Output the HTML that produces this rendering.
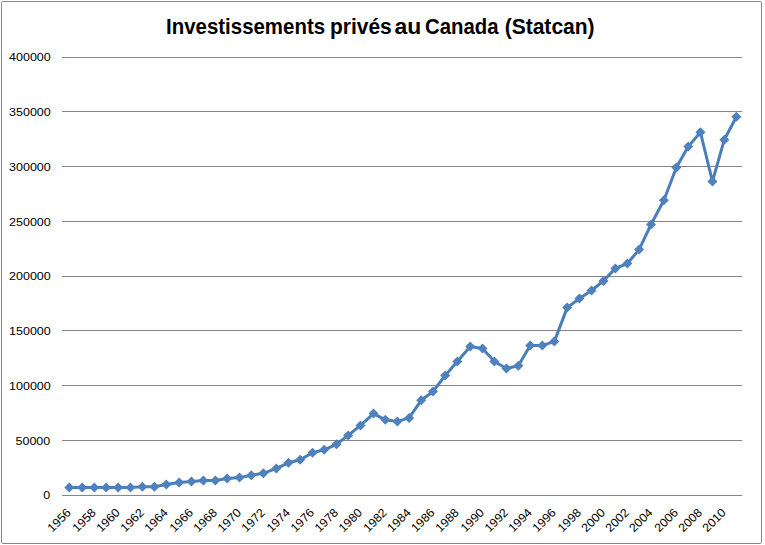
<!DOCTYPE html><html><head><meta charset="utf-8"><style>html,body{margin:0;padding:0;background:#fff;}svg{display:block;}text{font-family:"Liberation Sans",sans-serif;}</style></head><body>
<svg width="765" height="545" viewBox="0 0 765 545">
<rect x="0" y="0" width="765" height="545" fill="#fff"/>
<rect x="1.5" y="1.5" width="760" height="542" rx="1.2" ry="1.2" fill="#fff" stroke="#868686" stroke-width="1"/>
<line x1="62" y1="495.5" x2="742" y2="495.5" stroke="#868686" stroke-width="1"/>
<line x1="62" y1="440.5" x2="742" y2="440.5" stroke="#868686" stroke-width="1"/>
<line x1="62" y1="385.5" x2="742" y2="385.5" stroke="#868686" stroke-width="1"/>
<line x1="62" y1="330.5" x2="742" y2="330.5" stroke="#868686" stroke-width="1"/>
<line x1="62" y1="276.5" x2="742" y2="276.5" stroke="#868686" stroke-width="1"/>
<line x1="62" y1="221.5" x2="742" y2="221.5" stroke="#868686" stroke-width="1"/>
<line x1="62" y1="166.5" x2="742" y2="166.5" stroke="#868686" stroke-width="1"/>
<line x1="62" y1="111.5" x2="742" y2="111.5" stroke="#868686" stroke-width="1"/>
<line x1="62" y1="57.5" x2="742" y2="57.5" stroke="#868686" stroke-width="1"/>
<text transform="translate(50.3,498.5) scale(1.09,1)" text-anchor="end" font-size="11.5" fill="#000">0</text>
<text transform="translate(50.3,444.5) scale(1.09,1)" text-anchor="end" font-size="11.5" fill="#000">50000</text>
<text transform="translate(50.8,389.5) scale(1.09,1)" text-anchor="end" font-size="11.5" fill="#000">100000</text>
<text transform="translate(50.8,334.5) scale(1.09,1)" text-anchor="end" font-size="11.5" fill="#000">150000</text>
<text transform="translate(50.8,279.5) scale(1.09,1)" text-anchor="end" font-size="11.5" fill="#000">200000</text>
<text transform="translate(50.8,225.5) scale(1.09,1)" text-anchor="end" font-size="11.5" fill="#000">250000</text>
<text transform="translate(50.8,170.5) scale(1.09,1)" text-anchor="end" font-size="11.5" fill="#000">300000</text>
<text transform="translate(50.8,115.5) scale(1.09,1)" text-anchor="end" font-size="11.5" fill="#000">350000</text>
<text transform="translate(50.8,60.5) scale(1.09,1)" text-anchor="end" font-size="11.5" fill="#000">400000</text>
<text transform="translate(71.70,513.40) rotate(-45) scale(1.03,1)" text-anchor="end" font-size="12" fill="#000">1956</text>
<text transform="translate(96.70,513.40) rotate(-45) scale(1.03,1)" text-anchor="end" font-size="12" fill="#000">1958</text>
<text transform="translate(120.60,513.40) rotate(-45) scale(1.03,1)" text-anchor="end" font-size="12" fill="#000">1960</text>
<text transform="translate(144.80,513.40) rotate(-45) scale(1.03,1)" text-anchor="end" font-size="12" fill="#000">1962</text>
<text transform="translate(168.70,513.40) rotate(-45) scale(1.03,1)" text-anchor="end" font-size="12" fill="#000">1964</text>
<text transform="translate(193.85,513.40) rotate(-45) scale(1.03,1)" text-anchor="end" font-size="12" fill="#000">1966</text>
<text transform="translate(217.75,513.40) rotate(-45) scale(1.03,1)" text-anchor="end" font-size="12" fill="#000">1968</text>
<text transform="translate(241.90,513.40) rotate(-45) scale(1.03,1)" text-anchor="end" font-size="12" fill="#000">1970</text>
<text transform="translate(265.75,513.40) rotate(-45) scale(1.03,1)" text-anchor="end" font-size="12" fill="#000">1972</text>
<text transform="translate(290.90,513.40) rotate(-45) scale(1.03,1)" text-anchor="end" font-size="12" fill="#000">1974</text>
<text transform="translate(314.90,513.40) rotate(-45) scale(1.03,1)" text-anchor="end" font-size="12" fill="#000">1976</text>
<text transform="translate(338.90,513.40) rotate(-45) scale(1.03,1)" text-anchor="end" font-size="12" fill="#000">1978</text>
<text transform="translate(362.90,513.40) rotate(-45) scale(1.03,1)" text-anchor="end" font-size="12" fill="#000">1980</text>
<text transform="translate(387.70,513.40) rotate(-45) scale(1.03,1)" text-anchor="end" font-size="12" fill="#000">1982</text>
<text transform="translate(411.50,513.40) rotate(-45) scale(1.03,1)" text-anchor="end" font-size="12" fill="#000">1984</text>
<text transform="translate(435.40,513.40) rotate(-45) scale(1.03,1)" text-anchor="end" font-size="12" fill="#000">1986</text>
<text transform="translate(459.70,513.40) rotate(-45) scale(1.03,1)" text-anchor="end" font-size="12" fill="#000">1988</text>
<text transform="translate(484.90,513.40) rotate(-45) scale(1.03,1)" text-anchor="end" font-size="12" fill="#000">1990</text>
<text transform="translate(508.85,513.40) rotate(-45) scale(1.03,1)" text-anchor="end" font-size="12" fill="#000">1992</text>
<text transform="translate(532.60,513.40) rotate(-45) scale(1.03,1)" text-anchor="end" font-size="12" fill="#000">1994</text>
<text transform="translate(556.70,513.40) rotate(-45) scale(1.03,1)" text-anchor="end" font-size="12" fill="#000">1996</text>
<text transform="translate(581.85,513.40) rotate(-45) scale(1.03,1)" text-anchor="end" font-size="12" fill="#000">1998</text>
<text transform="translate(605.75,513.40) rotate(-45) scale(1.03,1)" text-anchor="end" font-size="12" fill="#000">2000</text>
<text transform="translate(629.75,513.40) rotate(-45) scale(1.03,1)" text-anchor="end" font-size="12" fill="#000">2002</text>
<text transform="translate(653.40,513.40) rotate(-45) scale(1.03,1)" text-anchor="end" font-size="12" fill="#000">2004</text>
<text transform="translate(678.75,513.40) rotate(-45) scale(1.03,1)" text-anchor="end" font-size="12" fill="#000">2006</text>
<text transform="translate(702.80,513.40) rotate(-45) scale(1.03,1)" text-anchor="end" font-size="12" fill="#000">2008</text>
<text transform="translate(726.70,513.40) rotate(-45) scale(1.03,1)" text-anchor="end" font-size="12" fill="#000">2010</text>
<path d="M69.30,487.60 L82.20,487.60 L94.30,487.60 L106.10,487.60 L118.20,487.60 L130.50,487.60 L142.40,486.70 L154.35,486.70 L166.30,484.50 L179.20,482.40 L191.45,481.50 L203.40,480.40 L215.35,480.50 L227.15,478.40 L239.50,477.60 L251.30,475.30 L263.35,473.30 L276.40,468.40 L288.50,462.80 L300.20,459.70 L312.50,452.80 L324.20,449.80 L336.50,444.30 L348.20,435.40 L360.50,425.40 L373.50,413.60 L385.30,419.80 L397.40,421.40 L409.10,417.90 L421.20,400.30 L433.00,391.50 L445.20,375.50 L457.30,361.40 L470.25,346.60 L482.50,348.40 L494.40,361.50 L506.45,368.50 L518.30,365.70 L530.20,345.50 L542.30,345.40 L554.30,341.60 L567.20,307.60 L579.45,298.50 L591.50,290.50 L603.35,281.00 L615.35,268.40 L627.35,263.50 L639.10,249.60 L651.00,224.50 L663.90,200.30 L676.35,167.50 L688.25,146.60 L700.40,132.20 L712.45,181.50 L724.30,139.70 L736.40,116.70" fill="none" stroke="#4A7EBB" stroke-width="3.0" stroke-linejoin="round" stroke-linecap="round"/>
<path d="M69.30,482.60 L74.30,487.60 L69.30,492.60 L64.30,487.60 Z" fill="#4F81BD"/>
<path d="M82.20,482.60 L87.20,487.60 L82.20,492.60 L77.20,487.60 Z" fill="#4F81BD"/>
<path d="M94.30,482.60 L99.30,487.60 L94.30,492.60 L89.30,487.60 Z" fill="#4F81BD"/>
<path d="M106.10,482.60 L111.10,487.60 L106.10,492.60 L101.10,487.60 Z" fill="#4F81BD"/>
<path d="M118.20,482.60 L123.20,487.60 L118.20,492.60 L113.20,487.60 Z" fill="#4F81BD"/>
<path d="M130.50,482.60 L135.50,487.60 L130.50,492.60 L125.50,487.60 Z" fill="#4F81BD"/>
<path d="M142.40,481.70 L147.40,486.70 L142.40,491.70 L137.40,486.70 Z" fill="#4F81BD"/>
<path d="M154.35,481.70 L159.35,486.70 L154.35,491.70 L149.35,486.70 Z" fill="#4F81BD"/>
<path d="M166.30,479.50 L171.30,484.50 L166.30,489.50 L161.30,484.50 Z" fill="#4F81BD"/>
<path d="M179.20,477.40 L184.20,482.40 L179.20,487.40 L174.20,482.40 Z" fill="#4F81BD"/>
<path d="M191.45,476.50 L196.45,481.50 L191.45,486.50 L186.45,481.50 Z" fill="#4F81BD"/>
<path d="M203.40,475.40 L208.40,480.40 L203.40,485.40 L198.40,480.40 Z" fill="#4F81BD"/>
<path d="M215.35,475.50 L220.35,480.50 L215.35,485.50 L210.35,480.50 Z" fill="#4F81BD"/>
<path d="M227.15,473.40 L232.15,478.40 L227.15,483.40 L222.15,478.40 Z" fill="#4F81BD"/>
<path d="M239.50,472.60 L244.50,477.60 L239.50,482.60 L234.50,477.60 Z" fill="#4F81BD"/>
<path d="M251.30,470.30 L256.30,475.30 L251.30,480.30 L246.30,475.30 Z" fill="#4F81BD"/>
<path d="M263.35,468.30 L268.35,473.30 L263.35,478.30 L258.35,473.30 Z" fill="#4F81BD"/>
<path d="M276.40,463.40 L281.40,468.40 L276.40,473.40 L271.40,468.40 Z" fill="#4F81BD"/>
<path d="M288.50,457.80 L293.50,462.80 L288.50,467.80 L283.50,462.80 Z" fill="#4F81BD"/>
<path d="M300.20,454.70 L305.20,459.70 L300.20,464.70 L295.20,459.70 Z" fill="#4F81BD"/>
<path d="M312.50,447.80 L317.50,452.80 L312.50,457.80 L307.50,452.80 Z" fill="#4F81BD"/>
<path d="M324.20,444.80 L329.20,449.80 L324.20,454.80 L319.20,449.80 Z" fill="#4F81BD"/>
<path d="M336.50,439.30 L341.50,444.30 L336.50,449.30 L331.50,444.30 Z" fill="#4F81BD"/>
<path d="M348.20,430.40 L353.20,435.40 L348.20,440.40 L343.20,435.40 Z" fill="#4F81BD"/>
<path d="M360.50,420.40 L365.50,425.40 L360.50,430.40 L355.50,425.40 Z" fill="#4F81BD"/>
<path d="M373.50,408.60 L378.50,413.60 L373.50,418.60 L368.50,413.60 Z" fill="#4F81BD"/>
<path d="M385.30,414.80 L390.30,419.80 L385.30,424.80 L380.30,419.80 Z" fill="#4F81BD"/>
<path d="M397.40,416.40 L402.40,421.40 L397.40,426.40 L392.40,421.40 Z" fill="#4F81BD"/>
<path d="M409.10,412.90 L414.10,417.90 L409.10,422.90 L404.10,417.90 Z" fill="#4F81BD"/>
<path d="M421.20,395.30 L426.20,400.30 L421.20,405.30 L416.20,400.30 Z" fill="#4F81BD"/>
<path d="M433.00,386.50 L438.00,391.50 L433.00,396.50 L428.00,391.50 Z" fill="#4F81BD"/>
<path d="M445.20,370.50 L450.20,375.50 L445.20,380.50 L440.20,375.50 Z" fill="#4F81BD"/>
<path d="M457.30,356.40 L462.30,361.40 L457.30,366.40 L452.30,361.40 Z" fill="#4F81BD"/>
<path d="M470.25,341.60 L475.25,346.60 L470.25,351.60 L465.25,346.60 Z" fill="#4F81BD"/>
<path d="M482.50,343.40 L487.50,348.40 L482.50,353.40 L477.50,348.40 Z" fill="#4F81BD"/>
<path d="M494.40,356.50 L499.40,361.50 L494.40,366.50 L489.40,361.50 Z" fill="#4F81BD"/>
<path d="M506.45,363.50 L511.45,368.50 L506.45,373.50 L501.45,368.50 Z" fill="#4F81BD"/>
<path d="M518.30,360.70 L523.30,365.70 L518.30,370.70 L513.30,365.70 Z" fill="#4F81BD"/>
<path d="M530.20,340.50 L535.20,345.50 L530.20,350.50 L525.20,345.50 Z" fill="#4F81BD"/>
<path d="M542.30,340.40 L547.30,345.40 L542.30,350.40 L537.30,345.40 Z" fill="#4F81BD"/>
<path d="M554.30,336.60 L559.30,341.60 L554.30,346.60 L549.30,341.60 Z" fill="#4F81BD"/>
<path d="M567.20,302.60 L572.20,307.60 L567.20,312.60 L562.20,307.60 Z" fill="#4F81BD"/>
<path d="M579.45,293.50 L584.45,298.50 L579.45,303.50 L574.45,298.50 Z" fill="#4F81BD"/>
<path d="M591.50,285.50 L596.50,290.50 L591.50,295.50 L586.50,290.50 Z" fill="#4F81BD"/>
<path d="M603.35,276.00 L608.35,281.00 L603.35,286.00 L598.35,281.00 Z" fill="#4F81BD"/>
<path d="M615.35,263.40 L620.35,268.40 L615.35,273.40 L610.35,268.40 Z" fill="#4F81BD"/>
<path d="M627.35,258.50 L632.35,263.50 L627.35,268.50 L622.35,263.50 Z" fill="#4F81BD"/>
<path d="M639.10,244.60 L644.10,249.60 L639.10,254.60 L634.10,249.60 Z" fill="#4F81BD"/>
<path d="M651.00,219.50 L656.00,224.50 L651.00,229.50 L646.00,224.50 Z" fill="#4F81BD"/>
<path d="M663.90,195.30 L668.90,200.30 L663.90,205.30 L658.90,200.30 Z" fill="#4F81BD"/>
<path d="M676.35,162.50 L681.35,167.50 L676.35,172.50 L671.35,167.50 Z" fill="#4F81BD"/>
<path d="M688.25,141.60 L693.25,146.60 L688.25,151.60 L683.25,146.60 Z" fill="#4F81BD"/>
<path d="M700.40,127.20 L705.40,132.20 L700.40,137.20 L695.40,132.20 Z" fill="#4F81BD"/>
<path d="M712.45,176.50 L717.45,181.50 L712.45,186.50 L707.45,181.50 Z" fill="#4F81BD"/>
<path d="M724.30,134.70 L729.30,139.70 L724.30,144.70 L719.30,139.70 Z" fill="#4F81BD"/>
<path d="M736.40,111.70 L741.40,116.70 L736.40,121.70 L731.40,116.70 Z" fill="#4F81BD"/>
<text transform="translate(166.07,34) scale(0.9294,1)" font-size="22" font-weight="bold" fill="#000">Investissements</text>
<text transform="translate(330.05,34) scale(0.9524,1)" font-size="22" font-weight="bold" fill="#000">privés</text>
<text transform="translate(394.46,34) scale(1.0435,1)" font-size="22" font-weight="bold" fill="#000">au</text>
<text transform="translate(425.08,34) scale(0.9241,1)" font-size="22" font-weight="bold" fill="#000">Canada</text>
<text transform="translate(504.64,34) scale(0.9565,1)" font-size="22" font-weight="bold" fill="#000">(Statcan)</text>
</svg></body></html>
